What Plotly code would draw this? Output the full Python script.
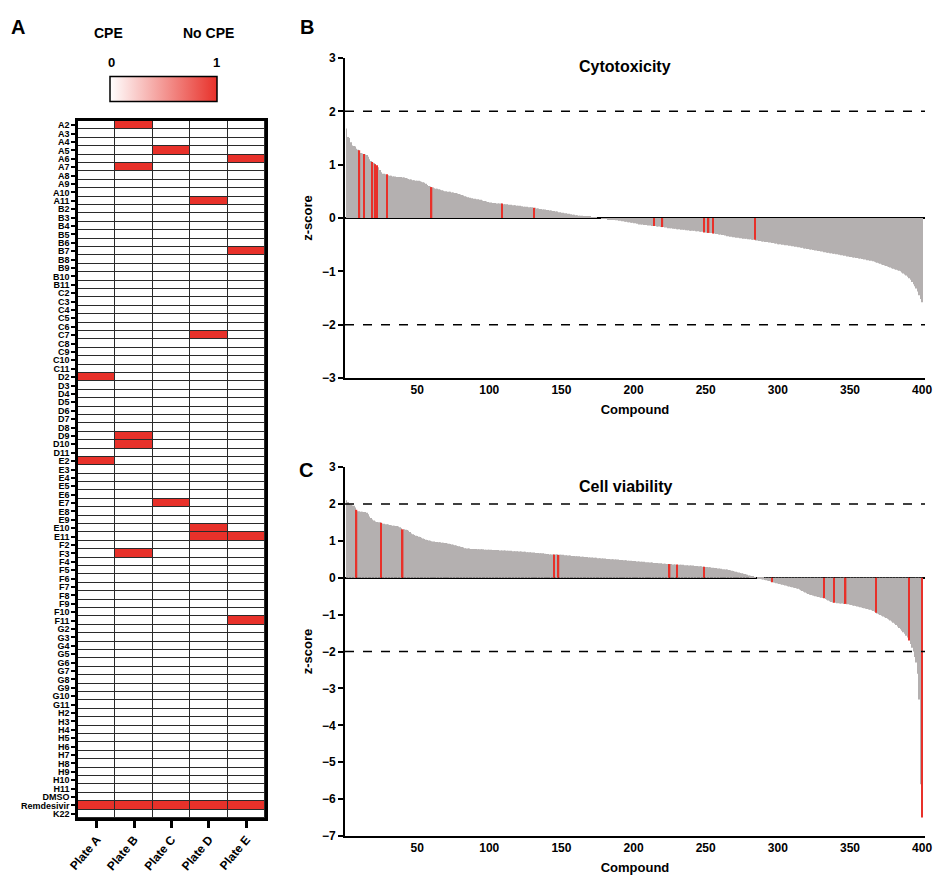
import plotly.graph_objects as go

# ---------------- Data ----------------
plates = ["Plate A", "Plate B", "Plate C", "Plate D", "Plate E"]
well_rows = [f"{r}{n}" for r in "ABCDEFGH" for n in range(2, 12)] + ["DMSO", "Remdesivir", "K22"]

# wells scored "No CPE" (value 1) per plate
no_cpe_plate_A = ["D2", "E2", "Remdesivir"]
no_cpe_plate_B = ["A2", "A7", "D9", "D10", "F3", "Remdesivir"]
no_cpe_plate_C = ["A5", "E7", "Remdesivir"]
no_cpe_plate_D = ["A11", "C7", "E10", "E11", "Remdesivir"]
no_cpe_plate_E = ["A6", "B7", "E11", "F11", "Remdesivir"]
no_cpe_lists = [no_cpe_plate_A, no_cpe_plate_B, no_cpe_plate_C, no_cpe_plate_D, no_cpe_plate_E]

cytotoxicity_z = [
    1.68,1.52,1.50,1.42,1.36,1.35,1.34,1.30,1.28,1.27,1.22,1.21,1.20,1.19,1.18,1.15,1.10,1.07,1.05,1.03,
    1.01,0.99,0.95,0.90,0.86,0.83,0.83,0.82,0.82,0.80,0.79,0.79,0.78,0.78,0.78,0.77,0.77,0.77,0.77,0.76,
    0.76,0.75,0.74,0.73,0.72,0.72,0.71,0.71,0.70,0.70,0.70,0.69,0.68,0.67,0.66,0.64,0.62,0.60,0.59,0.58,
    0.57,0.56,0.55,0.55,0.54,0.53,0.52,0.51,0.50,0.50,0.49,0.49,0.49,0.48,0.48,0.47,0.47,0.46,0.45,0.44,
    0.43,0.42,0.41,0.40,0.39,0.38,0.38,0.37,0.36,0.36,0.35,0.35,0.34,0.34,0.33,0.32,0.32,0.31,0.30,0.29,
    0.29,0.28,0.28,0.28,0.27,0.27,0.27,0.27,0.27,0.26,0.26,0.26,0.25,0.25,0.25,0.24,0.24,0.24,0.23,0.23,
    0.23,0.22,0.22,0.21,0.21,0.21,0.20,0.20,0.20,0.20,0.19,0.19,0.18,0.18,0.17,0.17,0.16,0.16,0.16,0.15,
    0.15,0.14,0.14,0.13,0.13,0.12,0.12,0.11,0.11,0.10,0.10,0.09,0.09,0.08,0.08,0.07,0.07,0.06,0.06,0.05,
    0.05,0.04,0.04,0.04,0.03,0.03,0.03,0.02,0.02,0.02,0.01,0.01,0.01,0.01,0.00,0.00,0.00,-0.01,-0.01,-0.01,
    -0.01,-0.02,-0.02,-0.02,-0.03,-0.03,-0.03,-0.04,-0.04,-0.05,-0.05,-0.06,-0.06,-0.07,-0.07,-0.08,-0.08,-0.09,-0.09,-0.10,
    -0.10,-0.11,-0.11,-0.12,-0.12,-0.12,-0.13,-0.13,-0.13,-0.14,-0.14,-0.14,-0.15,-0.15,-0.15,-0.16,-0.16,-0.16,-0.17,-0.17,
    -0.17,-0.18,-0.18,-0.19,-0.19,-0.19,-0.20,-0.20,-0.20,-0.21,-0.21,-0.21,-0.22,-0.22,-0.22,-0.23,-0.23,-0.23,-0.24,-0.24,
    -0.24,-0.24,-0.25,-0.25,-0.25,-0.26,-0.26,-0.26,-0.27,-0.27,-0.27,-0.28,-0.28,-0.28,-0.29,-0.29,-0.30,-0.30,-0.31,-0.31,
    -0.32,-0.32,-0.33,-0.33,-0.34,-0.34,-0.35,-0.35,-0.36,-0.36,-0.37,-0.37,-0.37,-0.38,-0.38,-0.39,-0.39,-0.39,-0.40,-0.40,
    -0.40,-0.41,-0.41,-0.41,-0.42,-0.42,-0.43,-0.43,-0.44,-0.44,-0.45,-0.45,-0.45,-0.46,-0.46,-0.47,-0.47,-0.48,-0.48,-0.49,
    -0.49,-0.49,-0.50,-0.50,-0.51,-0.51,-0.51,-0.52,-0.52,-0.53,-0.53,-0.54,-0.54,-0.55,-0.55,-0.56,-0.56,-0.57,-0.57,-0.58,
    -0.58,-0.59,-0.59,-0.60,-0.60,-0.61,-0.61,-0.62,-0.62,-0.63,-0.63,-0.64,-0.64,-0.65,-0.65,-0.66,-0.66,-0.67,-0.67,-0.68,
    -0.68,-0.69,-0.69,-0.70,-0.70,-0.71,-0.71,-0.72,-0.72,-0.73,-0.73,-0.74,-0.74,-0.75,-0.75,-0.76,-0.76,-0.77,-0.77,-0.78,
    -0.78,-0.79,-0.79,-0.80,-0.80,-0.81,-0.82,-0.83,-0.84,-0.85,-0.86,-0.87,-0.88,-0.89,-0.90,-0.91,-0.92,-0.93,-0.94,-0.95,
    -0.96,-0.97,-0.98,-0.99,-1.00,-1.02,-1.04,-1.06,-1.08,-1.10,-1.13,-1.16,-1.20,-1.24,-1.28,-1.32,-1.38,-1.45,-1.52,-1.58,
]
cytotoxicity_hits = [10, 13, 19, 21, 22, 29, 60, 109, 131, 214, 220, 249, 252, 255, 284]

viability_z = [
    2.10,2.05,2.00,1.98,1.96,1.95,1.90,1.84,1.80,1.80,1.79,1.79,1.78,1.78,1.76,1.72,1.66,1.62,1.58,1.55,
    1.52,1.51,1.50,1.50,1.49,1.47,1.46,1.45,1.45,1.44,1.43,1.42,1.41,1.41,1.40,1.40,1.39,1.37,1.34,1.31,
    1.31,1.30,1.29,1.27,1.24,1.20,1.18,1.16,1.14,1.13,1.11,1.10,1.08,1.06,1.05,1.03,1.02,1.01,1.00,0.99,
    0.98,0.98,0.97,0.97,0.96,0.96,0.95,0.95,0.94,0.94,0.93,0.92,0.91,0.90,0.89,0.88,0.87,0.86,0.85,0.84,
    0.83,0.82,0.80,0.79,0.79,0.79,0.78,0.78,0.78,0.78,0.78,0.77,0.77,0.77,0.77,0.77,0.76,0.76,0.76,0.76,
    0.76,0.75,0.75,0.75,0.75,0.75,0.74,0.74,0.74,0.74,0.74,0.73,0.73,0.73,0.73,0.72,0.72,0.72,0.72,0.71,
    0.71,0.71,0.70,0.70,0.70,0.69,0.69,0.69,0.68,0.68,0.68,0.67,0.67,0.67,0.66,0.66,0.66,0.65,0.65,0.64,
    0.64,0.63,0.63,0.63,0.63,0.63,0.63,0.62,0.62,0.62,0.62,0.61,0.61,0.60,0.60,0.60,0.59,0.59,0.59,0.58,
    0.58,0.58,0.57,0.57,0.57,0.56,0.56,0.56,0.55,0.55,0.55,0.54,0.54,0.54,0.53,0.53,0.53,0.52,0.52,0.52,
    0.51,0.51,0.51,0.50,0.50,0.50,0.49,0.49,0.49,0.48,0.48,0.48,0.47,0.47,0.47,0.46,0.46,0.46,0.45,0.45,
    0.45,0.44,0.44,0.44,0.43,0.43,0.43,0.42,0.42,0.42,0.41,0.41,0.41,0.40,0.40,0.40,0.39,0.39,0.39,0.38,
    0.38,0.38,0.37,0.37,0.37,0.37,0.36,0.36,0.36,0.36,0.35,0.35,0.35,0.35,0.34,0.34,0.34,0.33,0.33,0.33,
    0.33,0.32,0.32,0.32,0.31,0.31,0.31,0.30,0.30,0.29,0.29,0.28,0.28,0.27,0.27,0.26,0.26,0.25,0.25,0.24,
    0.24,0.23,0.23,0.22,0.22,0.21,0.20,0.19,0.18,0.17,0.16,0.15,0.14,0.13,0.12,0.11,0.10,0.09,0.08,0.06,
    0.05,0.03,0.02,0.01,0.00,-0.01,-0.02,-0.03,-0.04,-0.05,-0.06,-0.07,-0.08,-0.09,-0.10,-0.12,-0.13,-0.14,-0.15,-0.16,
    -0.17,-0.18,-0.19,-0.20,-0.21,-0.22,-0.23,-0.24,-0.25,-0.26,-0.27,-0.28,-0.29,-0.30,-0.32,-0.34,-0.36,-0.38,-0.40,-0.42,
    -0.44,-0.46,-0.47,-0.48,-0.49,-0.50,-0.51,-0.52,-0.53,-0.54,-0.55,-0.56,-0.58,-0.60,-0.62,-0.64,-0.66,-0.67,-0.68,-0.68,
    -0.69,-0.69,-0.70,-0.70,-0.70,-0.71,-0.71,-0.72,-0.72,-0.73,-0.74,-0.75,-0.76,-0.77,-0.78,-0.79,-0.80,-0.81,-0.82,-0.83,
    -0.84,-0.85,-0.86,-0.87,-0.88,-0.90,-0.92,-0.95,-0.97,-0.99,-1.01,-1.03,-1.05,-1.07,-1.09,-1.11,-1.13,-1.16,-1.19,-1.22,
    -1.25,-1.28,-1.32,-1.36,-1.40,-1.44,-1.48,-1.52,-1.57,-1.62,-1.70,-1.80,-1.90,-2.00,-2.15,-2.30,-2.60,-3.30,-5.60,-6.50,
]
viability_hits = [8, 25, 40, 145, 148, 225, 230, 249, 296, 332, 339, 347, 368, 391, 400]

threshold_lines = [2, -2]
compound_ticks = [50, 100, 150, 200, 250, 300, 350, 400]

# ---------------- Styling ----------------
FONT = "Liberation Sans"
GRAY = "#b4b0b0"
RED = "#e8312a"
W, H = 934, 885
BAR_W = 0.6

z = [[1 if w in lst else 0 for lst in no_cpe_lists] for w in well_rows]

fig = go.Figure()

fig.add_trace(go.Heatmap(
    x=plates, y=well_rows, z=z, xaxis="x", yaxis="y",
    zmin=0, zmax=1, xgap=1, ygap=1,
    colorscale=[[0, "#ffffff"], [1, RED]],
    hoverinfo="skip",
    colorbar=dict(orientation="h", x=163.5 / W, xanchor="center",
                  y=1 - 103 / H, yanchor="bottom", len=107 / W, lenmode="fraction",
                  thickness=25, outlinewidth=1.5, outlinecolor="black",
                  showticklabels=False, ticks="", xpad=0, ypad=0),
))

def add_bars(values, hits, xa, ya):
    hs = set(hits)
    xs = list(range(1, len(values) + 1))
    gx = [x for x in xs if x not in hs]
    fig.add_trace(go.Bar(x=gx, y=[values[x - 1] for x in gx], width=BAR_W,
                         marker=dict(color=GRAY, line=dict(width=0)),
                         xaxis=xa, yaxis=ya, showlegend=False))
    rx = [x for x in xs if x in hs]
    fig.add_trace(go.Bar(x=rx, y=[values[x - 1] for x in rx], width=1.0,
                         marker=dict(color=RED, line=dict(width=0)),
                         xaxis=xa, yaxis=ya, showlegend=False))

add_bars(cytotoxicity_z, cytotoxicity_hits, "x2", "y2")
add_bars(viability_z, viability_hits, "x3", "y3")

tickfont = dict(family=FONT, size=12, color="black", weight="bold")

common_x = dict(range=[0, 402], tickmode="array", tickvals=compound_ticks, ticks="",
                showline=True, linecolor="black", linewidth=2, showgrid=False, zeroline=False,
                tickfont=tickfont, automargin=False,
                title=dict(text="Compound", font=dict(family=FONT, size=13, color="black", weight="bold"),
                           standoff=8))
common_y = dict(dtick=1, ticks="outside", ticklen=5, tickwidth=2, tickcolor="black",
                showline=True, linecolor="black", linewidth=2, showgrid=False,
                zeroline=True, zerolinecolor="black", zerolinewidth=2,
                tickfont=tickfont, automargin=False,
                title=dict(text="z-score", font=dict(family=FONT, size=13, color="black", weight="bold"),
                           standoff=6))

fig.update_layout(
    template="none",
    width=W, height=H,
    margin=dict(l=0, r=0, t=0, b=0, pad=0, autoexpand=False),
    paper_bgcolor="white", plot_bgcolor="white",
    barmode="overlay", showlegend=False,
    font=dict(family=FONT, color="black"),
    xaxis=dict(domain=[78 / W, 265 / W], anchor="y", type="category", automargin=False,
               showline=True, mirror=True, linecolor="black", linewidth=2.5,
               ticks="outside", ticklen=7, tickwidth=2.5, tickcolor="black",
               tickangle=-50, tickfont=dict(family=FONT, size=12, color="black", weight="bold"),
               showgrid=False, zeroline=False),
    yaxis=dict(domain=[1 - 818 / H, 1 - 121 / H], anchor="x", type="category", automargin=False,
               autorange="reversed", tickmode="array", tickvals=well_rows, ticktext=well_rows,
               showline=True, mirror=True, linecolor="black", linewidth=2.5,
               ticks="outside", ticklen=4, tickwidth=2, tickcolor="black",
               tickfont=dict(family=FONT, size=9, color="black", weight="bold"),
               showgrid=False, zeroline=False),
    xaxis2=dict(domain=[345 / W, 925 / W], anchor="y2", **common_x),
    yaxis2=dict(domain=[1 - 378 / H, 1 - 58 / H], anchor="x2", range=[-3, 3], **common_y),
    xaxis3=dict(domain=[345 / W, 925 / W], anchor="y3", **common_x),
    yaxis3=dict(domain=[1 - 836 / H, 1 - 467 / H], anchor="x3", range=[-7, 3], **common_y),
)

# grid background for heatmap cells
fig.add_shape(type="rect", xref="x domain", yref="y domain", x0=0, x1=1, y0=0, y1=1,
              fillcolor="#2a2a2a", line=dict(width=0), layer="below")

# dashed threshold lines
for ax in ["2", "3"]:
    for t in threshold_lines:
        fig.add_shape(type="line", xref=f"x{ax} domain", yref=f"y{ax}", x0=0, x1=1, y0=t, y1=t,
                      line=dict(color="black", width=1.5, dash="dash"))

def ann(text, x, y, size):
    fig.add_annotation(text=text, x=x / W, y=1 - y / H, xref="paper", yref="paper",
                       xanchor="center", yanchor="middle", showarrow=False,
                       font=dict(family=FONT, size=size, color="black", weight="bold"))

ann("A", 18, 27, 20)
ann("B", 307, 27, 20)
ann("C", 306, 470, 20)
ann("CPE", 108, 33, 14)
ann("No CPE", 208, 33, 14)
ann("0", 111, 63, 13)
ann("1", 216, 63, 13)
ann("Cytotoxicity", 625, 66, 16)
ann("Cell viability", 625, 487, 16)

fig.write_html("out.html", config={"displayModeBar": False},
               post_script="document.body.style.margin='0px';document.body.style.padding='0px';")
